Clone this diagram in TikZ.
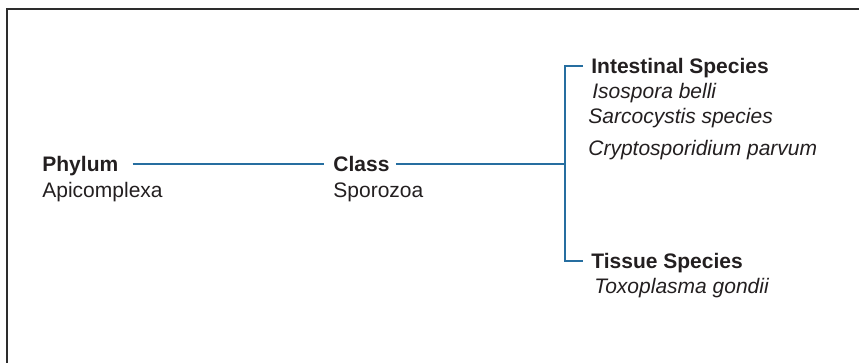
\documentclass[tikz,border=0pt]{standalone}
\usepackage{fontspec}
\setmainfont{Liberation Sans}
\definecolor{TaxBlue}{RGB}{38,110,160}
\definecolor{TaxText}{RGB}{35,31,32}
\definecolor{TaxFrame}{RGB}{45,45,45}

\begin{document}
\begin{tikzpicture}[x=0.5pt, y=-0.5pt,
  every node/.style={font=\fontsize{10.5}{12.6}\selectfont, text=TaxText, inner sep=0pt, anchor=base west},
  rank/.style={font=\fontsize{10.5}{12.6}\selectfont\bfseries, text height=7.5pt, text depth=0pt},
  taxon/.style={font=\fontsize{10.5}{12.6}\selectfont\itshape},
  link/.style={TaxBlue, line width=1pt}
]
    \useasboundingbox (0,0) rectangle (859,363);
    \draw[TaxFrame, line width=1pt] (7,380) -- (7,9) -- (880,9);

    \node[rank] (phylum) at (42,172) {Phylum};
    \node (apicomplexa) at (42,198) {Apicomplexa};
    \node[rank] (class) at (333,172) {Class};
    \node (sporozoa) at (333,198) {Sporozoa};

    \node[rank] (intestinal) at (591,74) {Intestinal Species};
    \node[taxon] (isospora) at (592,99) {Isospora belli};
    \node[taxon] (sarcocystis) at (588,124) {Sarcocystis species};
    \node[taxon] (crypto) at (588,156) {Cryptosporidium parvum};
    \node[rank] (tissue) at (591,269) {Tissue Species};
    \node[taxon] (toxoplasma) at (594,294) {Toxoplasma gondii};

    \coordinate (fork) at (565,164.5);

    \draw[link, shorten <=7pt, shorten >=4.5pt] (phylum.east) -- (class.west);
    \draw[link, shorten <=3pt] (class.east) -- (fork);
    \draw[link, shorten <=4pt, shorten >=4pt] (intestinal.west) -| (fork) |- (tissue.west);
\end{tikzpicture}
\end{document}
